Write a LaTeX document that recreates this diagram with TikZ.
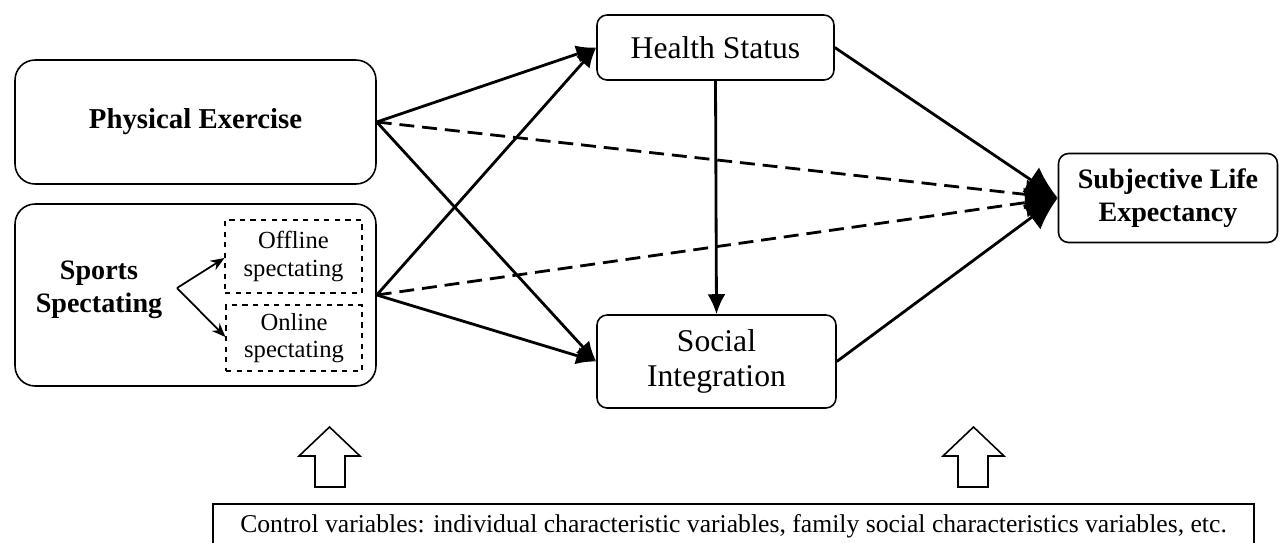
\documentclass[tikz,border=0pt]{standalone}
\usepackage{fontspec}
\setmainfont{Liberation Serif}
\usetikzlibrary{arrows.meta}

\begin{document}
\begin{tikzpicture}[x=0.02cm, y=-0.02cm,
    bigbox/.style={draw, line width=0.9pt, rounded corners=0.4cm, minimum width=7.22cm, align=center},
    midbox/.style={draw, line width=0.9pt, rounded corners=0.2cm, align=center, font=\fontsize{18}{20}\selectfont},
    subbox/.style={draw, dashed, line width=0.6pt, align=center, font=\fontsize{14}{15.5}\selectfont},
    path/.style={line width=1.6pt, -{Latex[length=4mm,width=3.6mm]}},
    toend/.style={line width=1.6pt, -{Latex[length=6.5mm,width=6mm]}},
    nopath/.style={toend, dash pattern=on 8.5pt off 4.5pt},
    upar/.style={draw, line width=0.9pt}]

    \useasboundingbox (0,0) rectangle (1279,542);

    % left side
    \node[bigbox, minimum height=2.48cm, font=\bfseries\fontsize{16.4}{18}\selectfont] (pe) at (195.5,122) {Physical Exercise};
    \node[bigbox, minimum height=3.64cm] (ss) at (195.5,295) {};
    \node[font=\bfseries\fontsize{16}{19}\selectfont, align=center] (sslabel) at (99,290) {Sports\\Spectating};
    \node[subbox, minimum width=2.74cm, minimum height=1.46cm] (off) at (293.5,256.5) {Offline\\spectating};
    \node[subbox, minimum width=2.72cm, minimum height=1.32cm] (on) at (294,338) {Online\\spectating};
    \coordinate (fork) at (177,288);
    \draw[line width=1pt, -{Stealth[length=2.8mm,width=2.2mm]}] (fork) -- (off.west |- 0,258);
    \draw[line width=1pt, -{Stealth[length=2.8mm,width=2.2mm]}] (fork) -- (on.west |- 0,337);

    % mediators and outcome
    \node[midbox, minimum width=4.74cm, minimum height=1.3cm] (hs) at (715.5,47.5) {Health Status};
    \node[midbox, minimum width=4.78cm, minimum height=1.86cm] (si) at (716.5,361.5) {Social\\Integration};
    \node[midbox, minimum width=4.38cm, minimum height=1.78cm, font=\bfseries\fontsize{16}{19}\selectfont] (sle) at (1168,198) {Subjective Life\\Expectancy};

    % paths
    \draw[path] (pe.east) -- (hs.west);
    \draw[path] (pe.east) -- (si.west);
    \draw[path] (ss.east) -- (hs.west);
    \draw[path] (ss.east) -- (si.west);
    \draw[path] (hs.south) -- (si.north);
    \draw[toend] (hs.east) -- (sle.west);
    \draw[toend] (si.east) -- (sle.west);
    \draw[nopath] (pe.east) -- (sle.west);
    \draw[nopath] (ss.east) -- (sle.west);

    % controls
    \draw[upar] (299,456) -- (329.5,427) -- (360,456) -- (345,456) -- (345,487) -- (315,487) -- (315,456) -- cycle;
    \draw[upar] (943,456) -- (973.5,427) -- (1004,456) -- (988,456) -- (988,487) -- (958,487) -- (958,456) -- cycle;
    \node[draw, line width=0.9pt, minimum width=20.82cm, minimum height=0.88cm, font=\fontsize{14.6}{16}\selectfont] (ctrl) at (733.5,526) {Control variables: individual characteristic variables, family social characteristics variables, etc.};

\end{tikzpicture}
\end{document}
